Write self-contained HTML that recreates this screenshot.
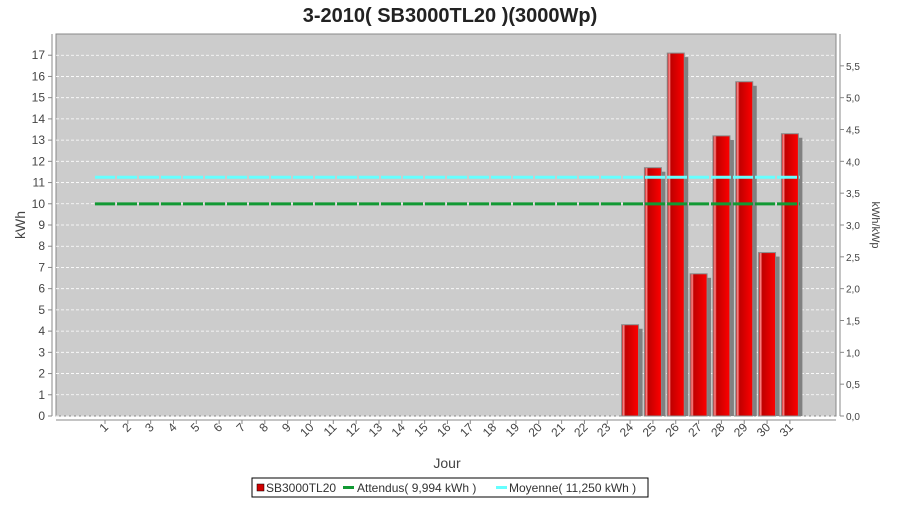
<!DOCTYPE html>
<html><head><meta charset="utf-8"><style>
body{margin:0;background:#fff;font-family:"Liberation Sans",sans-serif}
svg text{font-family:"Liberation Sans",sans-serif}
</style></head><body>
<svg width="900" height="500" viewBox="0 0 900 500">
<defs>
<linearGradient id="bg" x1="0" x2="1" y1="0" y2="0">
<stop offset="0" stop-color="#b00000"/><stop offset="0.12" stop-color="#ff9090"/><stop offset="0.22" stop-color="#c00000"/><stop offset="1" stop-color="#ff0000"/>
</linearGradient>
</defs>
<text x="450" y="22" text-anchor="middle" font-size="20" font-weight="bold" fill="#222">3-2010( SB3000TL20 )(3000Wp)</text>
<rect x="56" y="34" width="780" height="382" fill="#cccccc" stroke="#888"/>
<g id="grid"></g>
<g id="bars"></g>
<g id="lines"></g>
<g id="axes"></g>
<text transform="translate(25,225) rotate(-90)" text-anchor="middle" font-size="14" fill="#444">kWh</text>
<text transform="translate(872,225) rotate(90)" text-anchor="middle" font-size="11" fill="#444">kWh/kWp</text>
<text x="447" y="468" text-anchor="middle" font-size="14" fill="#444">Jour</text>
<g>
<rect x="252" y="478" width="396" height="19" fill="#fff" stroke="#000"/>
<g><rect x="257" y="484" width="7" height="7" fill="#d00000" stroke="#000" stroke-width="0.5"/><text x="266" y="492" font-size="12" fill="#333">SB3000TL20</text></g>
<g><rect x="343" y="486" width="11" height="3" fill="#119933"/><text x="357" y="492" font-size="12" fill="#333">Attendus( 9,994 kWh )</text></g>
<g><rect x="496" y="486" width="11" height="3" fill="#66ffff"/><text x="509" y="492" font-size="12" fill="#333">Moyenne( 11,250 kWh )</text></g>
</g>
</svg>
<script>
const days=[];for(let i=1;i<=31;i++)days.push(i);
const production=[0,0,0,0,0,0,0,0,0,0,0,0,0,0,0,0,0,0,0,0,0,0,0,4.3,11.7,17.1,6.7,13.2,15.75,7.7,13.3];
const expected=[9.994];
const average=[11.25];
const yTicks=[0,1,2,3,4,5,6,7,8,9,10,11,12,13,14,15,16,17];
const y2Ticks=[0,0.5,1,1.5,2,2.5,3,3.5,4,4.5,5,5.5];
const kWp=3;
const NS='http://www.w3.org/2000/svg';
const y=v=>416-v*(382/18);
const x=d=>105+(d-1)*22.83;
function mk(tag,attrs,parent,txt){const e=document.createElementNS(NS,tag);for(const k in attrs)e.setAttribute(k,attrs[k]);if(txt!==undefined)e.textContent=txt;document.getElementById(parent).appendChild(e);return e;}
yTicks.forEach(v=>{
 const g=mk('line',{x1:56,x2:836,y1:y(v),y2:y(v),stroke:'#fff','stroke-dasharray':'3,2','stroke-width':0.8},'grid');
 
 
 const t=mk('line',{x1:48,x2:52,y1:y(v),y2:y(v),stroke:'#888'},'axes');
 
 
 const l=mk('text',{x:45,y:y(v)+4,'text-anchor':'end','font-size':12,fill:'#444'},'axes',String(v));
 
 
});
y2Ticks.forEach(v=>{
 const t=mk('line',{x1:840,x2:844,y1:y(v*kWp),y2:y(v*kWp),stroke:'#888'},'axes');
 
 
 const l=mk('text',{x:846,y:y(v*kWp)+4,'font-size':10,fill:'#444'},'axes',v.toFixed(1).replace('.',','));
 
 
});
let a=mk('line',{x1:52,x2:52,y1:34,y2:416,stroke:'#888'},'axes');


a=mk('line',{x1:840,x2:840,y1:34,y2:416,stroke:'#888'},'axes');


a=mk('line',{x1:56,x2:836,y1:420,y2:420,stroke:'#888'},'axes');


days.forEach((d,i)=>{
 const cx=x(d);
 const t=mk('line',{x1:cx,x2:cx,y1:420,y2:424,stroke:'#888'},'axes');
 
 
 const l=mk('text',{x:0,y:0,'text-anchor':'end','font-size':12,fill:'#444',transform:`translate(${cx+4},${428}) rotate(-45)`},'axes',String(d));
 
 
 const v=production[i];
 if(v>0){
  const top=y(v),w=17;
  const s=mk('rect',{x:cx-w/2+4,y:top+4,width:w,height:416-top-4,fill:'#808080'},'bars');
  
  
  const b=mk('rect',{x:cx-w/2,y:top,width:w,height:416-top,fill:'url(#bg)',stroke:'#888','stroke-width':1},'bars');
  
  
 }
});
const l1=mk('line',{x1:x(1)-10,x2:x(31)+10,y1:y(expected[0]),y2:y(expected[0]),stroke:'#119933','stroke-width':3,'stroke-dasharray':'20,2'},'lines');


const l2=mk('line',{x1:x(1)-10,x2:x(31)+10,y1:y(average[0]),y2:y(average[0]),stroke:'#66ffff','stroke-width':3,'stroke-dasharray':'20,2'},'lines');


</script>
</body></html>
